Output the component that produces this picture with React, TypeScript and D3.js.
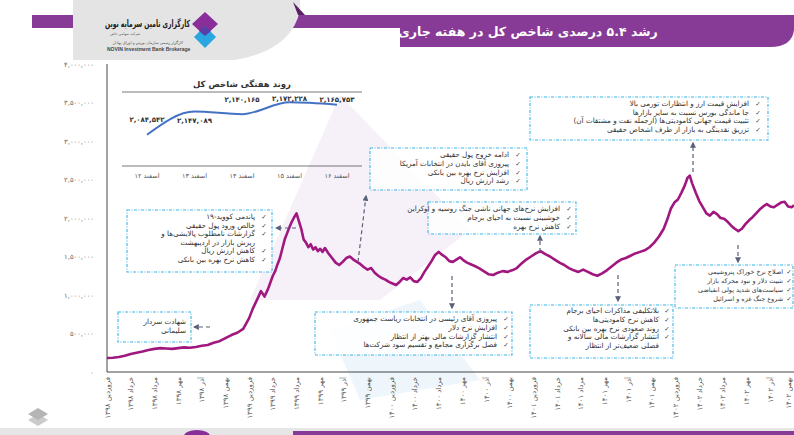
import React from "react";
import * as d3 from "d3";

const W = 794;
const H = 435;

const tickLabels = [
  "فروردین ۱۳۹۸", "خرداد ۱۳۹۸", "مرداد ۱۳۹۸", "مهر ۱۳۹۸", "آذر ۱۳۹۸", "بهمن ۱۳۹۸",
  "فروردین ۱۳۹۹", "خرداد ۱۳۹۹", "مرداد ۱۳۹۹", "مهر ۱۳۹۹", "آذر ۱۳۹۹", "بهمن ۱۳۹۹",
  "فروردین ۱۴۰۰", "خرداد ۱۴۰۰", "مرداد ۱۴۰۰", "مهر ۱۴۰۰", "آذر ۱۴۰۰", "بهمن ۱۴۰۰",
  "فروردین ۱۴۰۱", "خرداد ۱۴۰۱", "مرداد ۱۴۰۱", "مهر ۱۴۰۱", "آذر ۱۴۰۱", "بهمن ۱۴۰۱",
  "فروردین ۱۴۰۲", "خرداد ۱۴۰۲", "مرداد ۱۴۰۲", "مهر ۱۴۰۲", "آذر ۱۴۰۲", "بهمن ۱۴۰۲",
];

const yTicks = [0, 500000, 1000000, 1500000, 2000000, 2500000, 3000000, 3500000, 4000000];

// month offset since Farvardin 1398
const indexMonths = [
  0, 0.5, 1, 1.5, 2, 2.5, 3, 3.5, 4, 4.5, 5, 5.5, 6, 6.5, 7, 7.5, 8, 8.5, 9, 9.5,
  10, 10.5, 11, 11.5, 12, 12.3, 12.7, 13, 13.3, 13.6, 14, 14.2, 14.4, 14.6, 14.8, 15, 15.2,
  15.4, 15.6, 15.8, 16, 16.2, 16.4, 16.6, 16.8, 17, 17.2, 17.4, 17.6, 17.8, 18, 18.2, 18.4,
  18.7, 19, 19.3, 19.6, 19.9, 20.2, 20.5, 20.8, 21.1, 21.4, 21.7, 22, 22.3, 22.6, 22.9,
  23.2, 23.5, 23.8, 24.1, 24.4, 24.7, 25, 25.3, 25.6, 25.9, 26.2, 26.5, 26.8, 27.1, 27.4,
  27.7, 28, 28.3, 28.6, 28.9, 29.2, 29.5, 29.8, 30.1, 30.4, 30.7, 31, 31.4, 31.8, 32.2,
  32.6, 33, 33.4, 33.8, 34.2, 34.6, 35, 35.4, 35.8, 36.2, 36.6, 37, 37.4, 37.8, 38.2,
  38.6, 39, 39.4, 39.8, 40.2, 40.6, 41, 41.4, 41.8, 42.2, 42.6, 43, 43.4, 43.8, 44.2,
  44.6, 45, 45.4, 45.8, 46.2, 46.6, 47, 47.3, 47.6, 47.9, 48.2, 48.5, 48.8, 49, 49.2,
  49.4, 49.7, 50, 50.3, 50.6, 50.9, 51.2, 51.5, 51.8, 52.1, 52.4, 52.7, 53, 53.3, 53.6,
  53.9, 54.2, 54.5, 54.8, 55.1, 55.4, 55.7, 56, 56.3, 56.6, 56.9, 57.2, 57.5, 57.8, 58,
];
const indexValues = [
  182000, 186000, 195000, 210000, 235000, 250000, 265000, 285000, 300000, 310000,
  305000, 300000, 310000, 320000, 315000, 325000, 340000, 350000, 380000, 400000,
  440000, 480000, 510000, 560000, 700000, 820000, 950000, 1050000, 980000, 1080000,
  1250000, 1310000, 1400000, 1480000, 1600000, 1720000, 1800000,
  1880000, 1950000, 2010000, 2060000, 1960000, 1860000, 1720000, 1680000, 1620000, 1660000, 1590000, 1620000, 1570000, 1600000, 1560000, 1610000,
  1540000, 1480000, 1420000, 1390000, 1430000, 1480000, 1500000, 1460000, 1430000, 1400000, 1360000, 1330000, 1350000, 1290000, 1250000,
  1220000, 1200000, 1170000, 1150000, 1130000, 1170000, 1220000, 1200000, 1230000, 1180000, 1170000, 1220000, 1300000, 1370000, 1440000,
  1520000, 1560000, 1520000, 1490000, 1440000, 1430000, 1460000, 1490000, 1450000, 1420000, 1400000, 1380000, 1350000, 1310000, 1270000,
  1260000, 1290000, 1310000, 1300000, 1320000, 1350000, 1410000, 1460000, 1500000, 1540000, 1570000, 1530000, 1500000, 1460000, 1420000,
  1390000, 1350000, 1320000, 1300000, 1330000, 1300000, 1270000, 1250000, 1280000, 1320000, 1370000, 1420000, 1460000, 1480000, 1510000,
  1540000, 1560000, 1580000, 1620000, 1680000, 1760000, 1860000, 1980000, 2120000, 2200000, 2240000, 2330000, 2430000, 2520000, 2550000,
  2450000, 2330000, 2220000, 2140000, 2060000, 2030000, 2080000, 2050000, 2000000, 1990000, 1950000, 1900000, 1860000, 1830000, 1860000,
  1920000, 1970000, 2010000, 2060000, 2110000, 2150000, 2180000, 2150000, 2140000, 2170000, 2200000, 2210000, 2150000, 2140000, 2165000,
];

const insetLabels = ["۱۲ اسفند", "۱۳ اسفند", "۱۴ اسفند", "۱۵ اسفند", "۱۶ اسفند"];
const insetValues = [2084542, 2147089, 2140165, 2172228, 2165753];

const FA = "DejaVu Sans, Noto Sans, sans-serif";
const toFa = (s: string) => s.replace(/\d/g, (d) => "۰۱۲۳۴۵۶۷۸۹"[+d]);
const fmt = (v: number) => toFa(d3.format(",")(v));

type Box = {
  x: number; y: number; w: number; h: number;
  tx: number; cx: number | null; y0: number; lh: number; fs: number;
  lines: { t: string; c: boolean }[];
};

const boxes: Box[] = [
  { x: 118, y: 312, w: 73, h: 30, tx: 186, cx: null, y0: 324, lh: 9, fs: 7.2,
    lines: [{ t: "شهادت سردار", c: false }, { t: "سلیمانی", c: false }] },
  { x: 127, y: 210, w: 145, h: 62, tx: 255, cx: 264, y0: 219, lh: 8.6, fs: 7.2,
    lines: [
      { t: "پاندمی کووید-۱۹", c: true },
      { t: "خالص ورود پول حقیقی", c: true },
      { t: "گزارشات نامطلوب پالایشی‌ها و", c: true },
      { t: "ریزش بازار در اردیبهشت", c: false },
      { t: "کاهش ارزش ریال", c: true },
      { t: "کاهش نرخ بهره بین بانکی", c: true },
    ] },
  { x: 370, y: 148, w: 157, h: 42, tx: 509, cx: 518, y0: 157, lh: 8.8, fs: 7.2,
    lines: [
      { t: "ادامه خروج پول حقیقی", c: true },
      { t: "پیروزی آقای بایدن در انتخابات آمریکا", c: true },
      { t: "افزایش نرخ بهره بین بانکی", c: true },
      { t: "رشد ارزش ریال", c: true },
    ] },
  { x: 428, y: 202, w: 148, h: 32, tx: 560, cx: 569, y0: 211, lh: 8.8, fs: 7.2,
    lines: [
      { t: "افزایش نرخ‌های جهانی ناشی جنگ روسیه و اوکراین", c: true },
      { t: "خوشبینی نسبت به احیای برجام", c: true },
      { t: "کاهش نرخ بهره", c: true },
    ] },
  { x: 530, y: 97, w: 238, h: 43, tx: 749, cx: 758, y0: 106, lh: 8.5, fs: 7.2,
    lines: [
      { t: "افزایش قیمت ارز و انتظارات تورمی بالا", c: true },
      { t: "جا ماندگی بورس نسبت به سایر بازارها", c: true },
      { t: "تثبیت قیمت جهانی کامودیتی‌ها (ازجمله نفت و مشتقات آن)", c: true },
      { t: "تزریق نقدینگی به بازار از طرف اشخاص حقیقی", c: true },
    ] },
  { x: 315, y: 312, w: 197, h: 43, tx: 497, cx: 506, y0: 321, lh: 8.8, fs: 7.2,
    lines: [
      { t: "پیروزی آقای رئیسی در انتخابات ریاست جمهوری", c: true },
      { t: "افزایش نرخ دلار", c: true },
      { t: "انتشار گزارشات مالی بهتر از انتظار", c: true },
      { t: "فصل برگزاری مجامع و تقسیم سود شرکت‌ها", c: true },
    ] },
  { x: 530, y: 305, w: 143, h: 53, tx: 659, cx: 667, y0: 313, lh: 8.8, fs: 7.2,
    lines: [
      { t: "بلاتکلیفی مذاکرات احیای برجام", c: true },
      { t: "کاهش نرخ کامودیتی‌ها", c: true },
      { t: "روند صعودی نرخ بهره بین بانکی", c: true },
      { t: "انتشار گزارشات مالی سالانه و", c: true },
      { t: "فصلی ضعیف‌تر از انتظار", c: false },
    ] },
  { x: 675, y: 265, w: 118, h: 43, tx: 783, cx: 789, y0: 274, lh: 9, fs: 6.4,
    lines: [
      { t: "اصلاح نرخ خوراک پتروشیمی", c: true },
      { t: "تثبیت دلار و نبود محرکه بازار", c: true },
      { t: "سیاست‌های شدید پولی انقباضی", c: true },
      { t: "شروع جنگ غزه و اسرائیل", c: true },
    ] },
];

// arrows: [x1,y1,x2,y2] arrowhead at end
const arrows = [
  [210, 327, 194, 327],
  [296, 228, 276, 228],
  [358, 262, 366, 196],
  [540, 252, 540, 236],
  [693, 172, 693, 143],
  [452, 276, 452, 308],
  [618, 275, 618, 301],
  [738, 245, 738, 262],
];

export default function App() {
  const x = d3.scaleLinear().domain([0, 58]).range([107, 794]);
  const y = d3.scaleLinear().domain([0, 4000000]).range([372, 64]);
  const line = d3
    .line<number>()
    .x((_, i) => x(indexMonths[i]))
    .y((d) => y(d))
    .curve(d3.curveLinear);

  const ix = d3.scalePoint<string>().domain(insetLabels).range([147, 337]);
  const iy = d3.scaleLinear().domain([2000000, 2200000]).range([166, 92]);
  const iline = d3
    .line<number>()
    .x((_, i) => ix(insetLabels[i]) as number)
    .y((d) => iy(d))
    .curve(d3.curveMonotoneX);
  const labelDy = [-13, 11, -12, -1, -3];

  return (
    <svg width={W} height={H} style={{ display: "block", position: "absolute", left: 0, top: 0 }}>
      <defs>
        <marker id="ah" viewBox="0 0 10 10" refX="8" refY="5" markerWidth="5" markerHeight="5" orient="auto">
          <path d="M0,0 L10,5 L0,10 Z" fill="#59607a" />
        </marker>
      </defs>
      <rect width={W} height={H} fill="#ffffff" />

      {/* decorative background */}
      <polygon points="250,300 340,95 470,230 380,300" fill="#f6f0f8" />
      <polygon points="330,330 420,300 480,380 360,400" fill="#eef6fb" />

      {/* header */}
      <rect x={32} y={15} width={400} height={13} fill="#873a96" />
      <path d="M400,15 L794,15 L794,30 Q792,47 770,47 L400,47 Z" fill="#873a96" />
      <path d="M73,0 L300,0 L300,10 Q292,50 235,60 L73,60 Z" fill="#e4e4e4" />
      <path d="M293,2 L305,15 L298,15 Z" fill="#5a1f66" />
      <text x={528} y={36} textAnchor="middle" fill="#ffffff" fontFamily={FA} fontWeight="bold" fontSize={12.5} direction="rtl">
        رشد ۵.۴ درصدی شاخص کل در هفته جاری
      </text>
      {/* logo */}
      <polygon points="205,12 218,24 205,36 192,24" fill="#8a2e9a" />
      <polygon points="205,26 216,37 205,48 194,37" fill="#2aa6e0" />
      <polygon points="205,26 211,31 205,36 199,31" fill="#5a3ea8" />
      <text x={190} y={27} textAnchor="end" fill="#222" fontFamily={FA} fontSize={10} fontWeight="bold" textLength={85} lengthAdjust="spacingAndGlyphs">
        کارگزاری تامین سرمایه نوین
      </text>
      <text x={125} y={35} textAnchor="middle" fill="#555" fontFamily={FA} fontSize={3.5}>
        شرکت سهامی خاص
      </text>
      <text x={148} y={44} textAnchor="middle" fill="#555" fontFamily={FA} fontSize={3.8}>
        کارگزار رسمی سازمان بورس و اوراق بهادار
      </text>
      <text x={107} y={51} fill="#444" fontFamily="Liberation Sans, Arial, sans-serif" fontWeight="bold" fontSize={5}>
        NOVIN Investment Bank Brokerage
      </text>

      {/* axes */}
      <line x1={107} y1={64} x2={107} y2={372} stroke="#444" strokeWidth={1} />
      <line x1={107} y1={372} x2={794} y2={372} stroke="#444" strokeWidth={1.2} />
      {yTicks.map((t) => (
        <text key={t} x={94} y={y(t) + 2.5} textAnchor="end" fill="#666" fontFamily={FA} fontSize={6.8}>
          {fmt(t)}
        </text>
      ))}
      {tickLabels.map((t, i) => (
        <text
          key={t}
          transform={`translate(${Math.min(x(i * 2) + 2.5, 791)},377) rotate(-90)`}
          textAnchor="end"
          fill="#555"
          fontFamily={FA}
          fontSize={7}
        >
          {t}
        </text>
      ))}

      {/* main series */}
      <path d={line(indexValues) || ""} fill="none" stroke="#a0177f" strokeWidth={2.6} strokeLinejoin="round" />

      {/* inset */}
      <text x={242} y={87} textAnchor="middle" fill="#333" fontFamily={FA} fontWeight="bold" fontSize={8.5}>
        روند هفتگی شاخص کل
      </text>
      <line x1={122} y1={92} x2={362} y2={92} stroke="#555" strokeWidth={0.8} />
      <line x1={122} y1={166} x2={362} y2={166} stroke="#555" strokeWidth={0.8} />
      <path d={iline(insetValues) || ""} fill="none" stroke="#4472c4" strokeWidth={2} />
      {insetValues.map((v, i) => (
        <text key={i} x={ix(insetLabels[i]) as number} y={iy(v) + labelDy[i]} textAnchor="middle" fill="#333" fontFamily={FA} fontWeight="bold" fontSize={7}>
          {fmt(v)}
        </text>
      ))}
      {insetLabels.map((l) => (
        <text key={l} x={ix(l) as number} y={178} textAnchor="middle" fill="#555" fontFamily={FA} fontSize={6.5}>
          {toFa(l)}
        </text>
      ))}

      {/* arrows */}
      {arrows.map((a, i) => (
        <line key={i} x1={a[0]} y1={a[1]} x2={a[2]} y2={a[3]} stroke="#59607a" strokeWidth={1.2} strokeDasharray="4 3" markerEnd="url(#ah)" />
      ))}

      {/* boxes */}
      {boxes.map((b, bi) => (
        <g key={bi}>
          <rect x={b.x} y={b.y} width={b.w} height={b.h} fill="#ffffff" fillOpacity={0.85} stroke="#3bb4e6" strokeWidth={1.1} strokeDasharray="3 1.5 1 1.5" />
          {b.lines.map((l, li) => (
            <g key={li}>
              <text x={b.tx} y={b.y0 + li * b.lh} direction="rtl" textAnchor="start" fill="#333" fontFamily={FA} fontSize={b.fs}>
                {l.t}
              </text>
              {l.c && b.cx !== null && (
                <text x={b.cx} y={b.y0 + li * b.lh} textAnchor="middle" fill="#333" fontFamily={FA} fontSize={6.5}>
                  ✓
                </text>
              )}
            </g>
          ))}
        </g>
      ))}

      {/* footer */}
      <rect x={0} y={428} width={W} height={7} fill="#e6e6e6" />
      <rect x={293} y={431} width={501} height={4} fill="#873a96" />
      <ellipse cx={197} cy={436} rx={13} ry={6} fill="#8a2e9a" />
      <g fill="#b5b5b5">
        <polygon points="38,408 48,414 38,420 28,414" />
        <polygon points="38,414 48,420 38,426 28,420" opacity={0.7} />
      </g>
    </svg>
  );
}
